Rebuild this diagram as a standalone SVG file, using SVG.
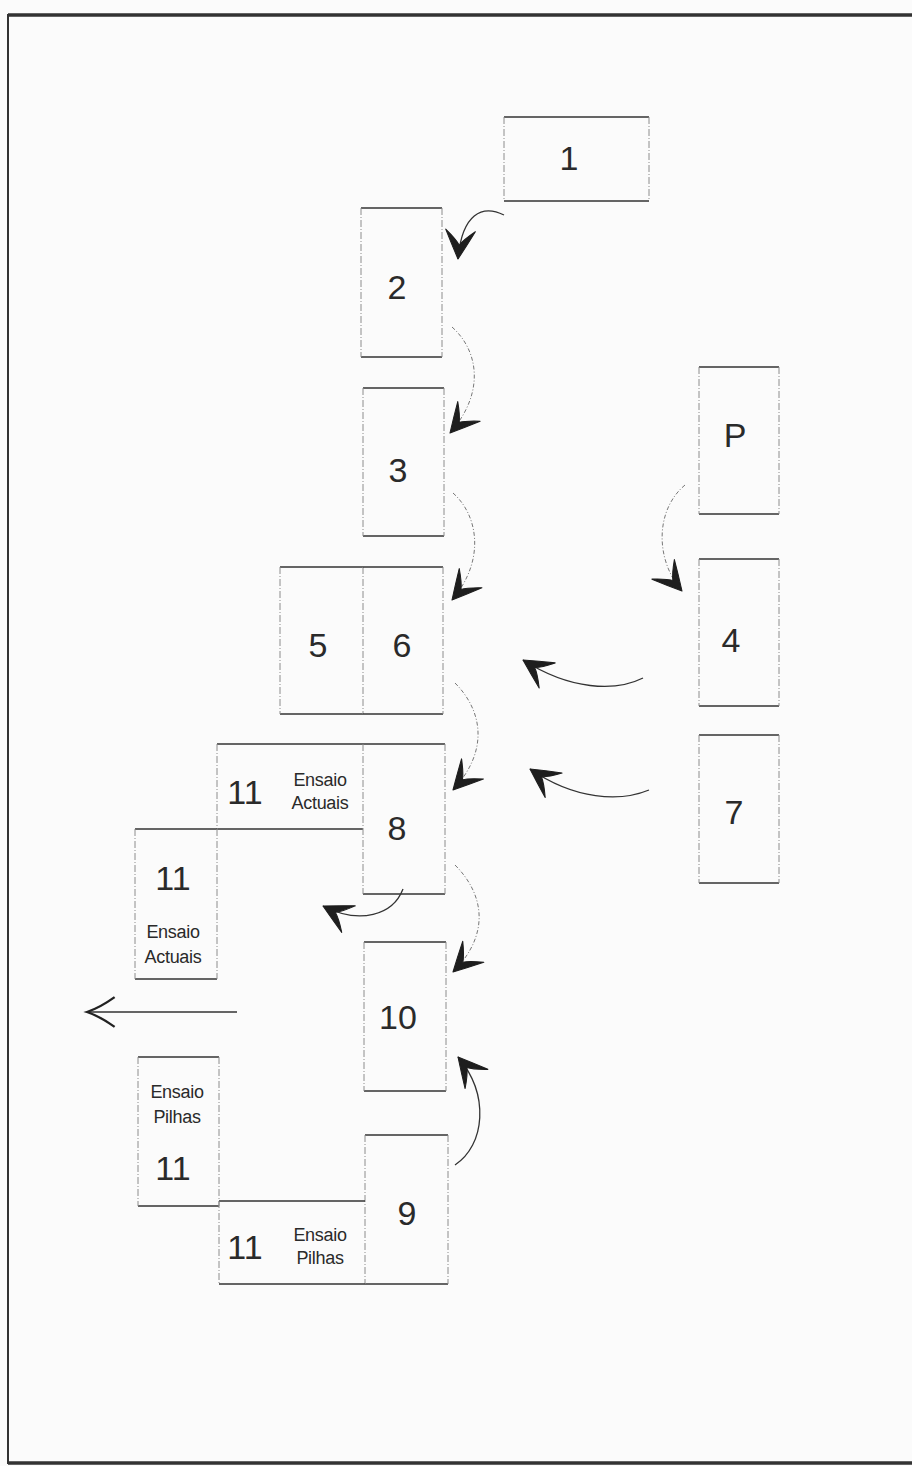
<svg xmlns="http://www.w3.org/2000/svg" width="912" height="1466" viewBox="0 0 912 1466">
<style>
.h{stroke:#353535;stroke-width:1.6;fill:none}
.v{stroke:#8c8c8c;stroke-width:1;stroke-dasharray:7 2 1 2;fill:none}
.num{font-family:"Liberation Sans",Arial,sans-serif;font-size:34px;fill:#2a2a2a;text-anchor:middle}
.lbl{font-family:"Liberation Sans",Arial,sans-serif;font-size:18px;fill:#2a2a2a;text-anchor:middle;letter-spacing:-0.3px}
.c{stroke:#333;stroke-width:1.3;fill:none}
.cd{stroke:#777;stroke-width:1;fill:none;stroke-dasharray:4 2 1 2}
</style>
<defs>
<marker id="dart" markerUnits="userSpaceOnUse" markerWidth="34" markerHeight="34" viewBox="-29 -16 32 32" refX="0" refY="0" orient="auto" overflow="visible">
<path d="M0,0 Q-13,-7 -27,-14 Q-18,-3 -13,0 Q-18,3 -27,14 Q-13,7 0,0 Z" fill="#1e1e1e" stroke="#1e1e1e" stroke-width="1" stroke-linejoin="round"/>
</marker>
<marker id="open" markerUnits="userSpaceOnUse" markerWidth="34" markerHeight="34" viewBox="-29 -16 32 32" refX="0" refY="0" orient="auto" overflow="visible">
<path d="M-26,-14 Q-12,-4 0,0 Q-12,4 -26,14" fill="none" stroke="#222" stroke-width="2.2"/>
</marker>
</defs>
<rect x="0" y="0" width="912" height="1466" fill="#fbfbfb"/>
<g id="frame">
<path d="M912,15 H8 V1463 H912" fill="none" stroke="#333" stroke-width="2"/>
<path d="M8,15 H912 M8,1463 H912" fill="none" stroke="#333" stroke-width="3.5"/>
</g>
<g id="connectors">
<path class="c" d="M504,215 C482,204 462,214 458,259" marker-end="url(#dart)"/>
<path class="cd" d="M452,327 C478,350 486,392 450,433" marker-end="url(#dart)"/>
<path class="cd" d="M453,493 C478,515 486,560 452,600" marker-end="url(#dart)"/>
<path class="cd" d="M685,485 C655,510 655,560 682,591" marker-end="url(#dart)"/>
<path class="c" d="M643,678 C615,692 570,690 523,660" marker-end="url(#dart)"/>
<path class="cd" d="M455,683 C482,710 490,750 453,790" marker-end="url(#dart)"/>
<path class="c" d="M649,790 C620,802 575,800 530,769" marker-end="url(#dart)"/>
<path class="c" d="M403,889 C393,915 360,925 323,906" marker-end="url(#dart)"/>
<path class="cd" d="M455,865 C485,895 490,935 453,972" marker-end="url(#dart)"/>
<path class="c" d="M455,1165 C485,1145 490,1095 458,1057" marker-end="url(#dart)"/>
<path class="c" d="M237,1012 H87" marker-end="url(#open)"/>
</g>
<g id="n1"><path class="h" d="M504,117 H649 M504,201 H649"/><path class="v" d="M504,117 V201 M649,117 V201"/><text class="num" x="569" y="170">1</text></g>
<g id="n2"><path class="h" d="M361,208 H442 M361,357 H442"/><path class="v" d="M361,208 V357 M442,208 V357"/><text class="num" x="397" y="299">2</text></g>
<g id="n3"><path class="h" d="M363,388 H444 M363,536 H444"/><path class="v" d="M363,388 V536 M444,388 V536"/><text class="num" x="398" y="482">3</text></g>
<g id="nP"><path class="h" d="M699,367 H779 M699,514 H779"/><path class="v" d="M699,367 V514 M779,367 V514"/><text class="num" x="735" y="447">P</text></g>
<g id="n4"><path class="h" d="M699,559 H779 M699,706 H779"/><path class="v" d="M699,559 V706 M779,559 V706"/><text class="num" x="731" y="652">4</text></g>
<g id="n7"><path class="h" d="M699,735 H779 M699,883 H779"/><path class="v" d="M699,735 V883 M779,735 V883"/><text class="num" x="734" y="824">7</text></g>
<g id="n5"><path class="h" d="M280,567 H363 M280,714 H363"/><path class="v" d="M280,567 V714 M363,567 V714"/><text class="num" x="318" y="657">5</text></g>
<g id="n6"><path class="h" d="M363,567 H443 M363,714 H443"/><path class="v" d="M443,567 V714"/><text class="num" x="402" y="657">6</text></g>
<g id="n11a"><path class="h" d="M217,744 H363 M217,829 H363"/><path class="v" d="M217,744 V829"/><text class="num" x="245" y="804">11</text><text class="lbl" x="320" y="786">Ensaio</text><text class="lbl" x="320" y="809">Actuais</text></g>
<g id="n8"><path class="h" d="M363,744 H445 M363,894 H445"/><path class="v" d="M363,744 V894 M445,744 V894"/><text class="num" x="397" y="840">8</text></g>
<g id="n11b"><path class="h" d="M135,829 H217 M135,979 H217"/><path class="v" d="M135,829 V979 M217,829 V979"/><text class="num" x="173" y="890">11</text><text class="lbl" x="173" y="938">Ensaio</text><text class="lbl" x="173" y="963">Actuais</text></g>
<g id="n10"><path class="h" d="M364,942 H446 M364,1091 H446"/><path class="v" d="M364,942 V1091 M446,942 V1091"/><text class="num" x="398" y="1029">10</text></g>
<g id="n11c"><path class="h" d="M138,1057 H219 M138,1206 H219"/><path class="v" d="M138,1057 V1206 M219,1057 V1206"/><text class="lbl" x="177" y="1098">Ensaio</text><text class="lbl" x="177" y="1123">Pilhas</text><text class="num" x="173" y="1180">11</text></g>
<g id="n9"><path class="h" d="M365,1135 H448 M365,1284 H448"/><path class="v" d="M365,1135 V1284 M448,1135 V1284"/><text class="num" x="407" y="1225">9</text></g>
<g id="n11d"><path class="h" d="M219,1201 H365 M219,1284 H365"/><path class="v" d="M219,1201 V1284"/><text class="num" x="245" y="1259">11</text><text class="lbl" x="320" y="1241">Ensaio</text><text class="lbl" x="320" y="1264">Pilhas</text></g>
</svg>
